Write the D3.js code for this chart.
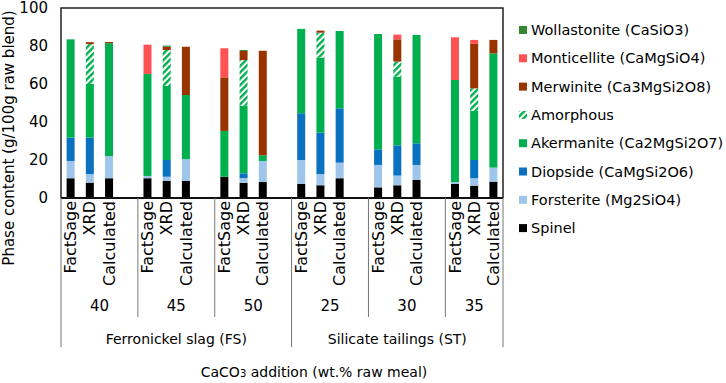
<!DOCTYPE html>
<html>
<head>
<meta charset="utf-8">
<script src="https://cdn.jsdelivr.net/npm/d3@7"></script>
<style>
  body { margin: 0; background: #fff; }
  text { font-family: "DejaVu Sans", sans-serif; fill: #000; }
</style>
</head>
<body>
<svg id="chart" width="726" height="383"></svg>
<script>
// categories
const materials = ["Ferronickel slag (FS)", "Silicate tailings (ST)"];
const additions = ["40", "45", "50", "25", "30", "35"];
const methods = ["FactSage", "XRD", "Calculated"];

// phases, bottom of the stack first
const phases = ["Spinel", "Forsterite (Mg2SiO4)", "Diopside (CaMgSi2O6)", "Akermanite (Ca2MgSi2O7)",
  "Amorphous", "Merwinite (Ca3MgSi2O8)", "Monticellite (CaMgSiO4)", "Wollastonite (CaSiO3)"];
const phaseColors = ["#000000", "#9dc6ea", "#0a70c0", "#00b04f", "url(#hatch)", "#993300", "#ff5252", "#34872f"];

// values per bar, order: 40 F/X/C, 45 F/X/C, 50 F/X/C, 25 F/X/C, 30 F/X/C, 35 F/X/C
const spinel       = [10.4, 8.1, 10.4, 10.4, 9.1, 9.1, 11.2, 8.0, 8.4, 7.5, 6.7, 10.4, 5.6, 6.7, 9.5, 7.5, 6.5, 8.6];
const forsterite   = [9.1, 4.5, 11.7, 1.2, 2.1, 11.4, 0, 2.5, 11.1, 12.5, 5.9, 8.2, 11.8, 5.1, 7.9, 0.9, 3.9, 7.4];
const diopside     = [12.3, 19.2, 0, 0, 8.8, 0, 0, 2.5, 0, 24.6, 21.8, 28.6, 8.2, 15.9, 11.4, 0, 9.6, 0];
const akermanite   = [51.7, 28.2, 59.4, 53.7, 39.0, 33.7, 24.1, 35.6, 3.0, 44.4, 39.5, 40.7, 60.7, 36.2, 57.0, 53.7, 25.8, 60.1];
const amorphous    = [0, 21.0, 0, 0, 18.9, 0, 0, 24.0, 0, 0, 13.1, 0, 0, 7.9, 0, 0, 11.9, 0];
const merwinite    = [0, 1.0, 0.6, 0, 1.7, 25.4, 28.2, 4.8, 55.0, 0, 1.1, 0, 0, 11.7, 0, 0, 23.4, 7.1];
const monticellite = [0, 0, 0, 15.4, 0, 0, 15.3, 0, 0, 0, 0, 0, 0, 2.5, 0, 22.5, 2.1, 0];
const wollastonite = [0, 0, 0, 0, 0.6, 0, 0, 0.5, 0, 0, 0, 0, 0, 0, 0, 0, 0, 0];
const series = [spinel, forsterite, diopside, akermanite, amorphous, merwinite, monticellite, wollastonite];

const yTicks = [0, 20, 40, 60, 80, 100];

// build slots: 3 bars per addition, plus an empty slot between additions
let slots = [];
let rows = [];
additions.forEach((a, i) => {
  methods.forEach((m, j) => {
    let k = i * 3 + j;
    let row = { slot: a + "|" + m, addition: a, method: m };
    phases.forEach((p, pi) => { row[p] = series[pi][k]; });
    rows.push(row);
    slots.push(row.slot);
  });
  if (i < additions.length - 1) slots.push(a + "|gap");
});

const margin = { left: 61, top: 8, right: 223, bottom: 185 };
const width = 726 - margin.left - margin.right;
const height = 383 - margin.top - margin.bottom;

const svg = d3.select("#chart");

// hatch for amorphous
svg.append("defs").append("pattern")
  .attr("id", "hatch")
  .attr("patternUnits", "userSpaceOnUse")
  .attr("width", 4.5).attr("height", 4.5)
  .attr("patternTransform", "rotate(45)")
  .call(p => {
    p.append("rect").attr("width", 4.5).attr("height", 4.5).attr("fill", "#fff");
    p.append("rect").attr("width", 2.4).attr("height", 4.5).attr("fill", "#00b04f");
  });

const g = svg.append("g").attr("transform", `translate(${margin.left},${margin.top})`);

const x = d3.scaleBand().domain(slots).range([0, width]).padding(0);
const y = d3.scaleLinear().domain([0, 100]).range([height, 0]);
const barW = 8;

const stacked = d3.stack().keys(phases)(rows);

g.selectAll("g.layer")
  .data(stacked)
  .join("g")
  .attr("class", "layer")
  .attr("fill", (d, i) => phaseColors[i])
  .selectAll("rect")
  .data(d => d.filter(s => s[1] - s[0] > 0))
  .join("rect")
  .attr("x", d => x(d.data.slot) + x.bandwidth() / 2 - barW / 2)
  .attr("width", barW)
  .attr("y", d => y(d[1]))
  .attr("height", d => y(d[0]) - y(d[1]));

// y axis
const yAxis = g.append("g")
  .call(d3.axisLeft(y).tickValues(yTicks).tickSize(0).tickPadding(13));
yAxis.select(".domain").remove();
yAxis.selectAll("text").style("font-family", "DejaVu Sans").style("font-size", "15px");

// plot frame
g.append("path")
  .attr("d", `M0,${height}V0H${width}V${height}`)
  .attr("fill", "none").attr("stroke", "#222").attr("stroke-width", 1.5);
g.append("line")
  .attr("x1", 0).attr("x2", width).attr("y1", height).attr("y2", height)
  .attr("stroke", "#111").attr("stroke-width", 2);

// category labels
g.selectAll("text.method")
  .data(rows)
  .join("text")
  .attr("class", "method")
  .attr("transform", d => `translate(${x(d.slot) + x.bandwidth() / 2},${height + 3}) rotate(-90)`)
  .attr("text-anchor", "end")
  .attr("dy", "0.35em")
  .style("font-size", "16px")
  .text(d => d.method);

// separators between additions and materials
const groupEdge = i => i < additions.length ? x(additions[i] + "|FactSage") : width;
const edges = d3.range(additions.length + 1).map(i => ({ x: groupEdge(i), outer: i % 3 === 0 }));
g.selectAll("line.sep")
  .data(edges)
  .join("line")
  .attr("class", "sep")
  .attr("x1", d => d.x).attr("x2", d => d.x)
  .attr("y1", height).attr("y2", d => d.outer ? height + 149 : height + 119)
  .attr("stroke", "#777").attr("stroke-width", 1);

g.selectAll("text.addition")
  .data(additions)
  .join("text")
  .attr("class", "addition")
  .attr("x", (d, i) => (groupEdge(i) + groupEdge(i + 1)) / 2)
  .attr("y", height + 113)
  .attr("text-anchor", "middle")
  .style("font-size", "15px")
  .text(d => d);

g.selectAll("text.material")
  .data(materials)
  .join("text")
  .attr("class", "material")
  .attr("x", (d, i) => (groupEdge(i * 3) + groupEdge(i * 3 + 3)) / 2)
  .attr("y", height + 146)
  .attr("text-anchor", "middle")
  .style("font-size", "14px")
  .text(d => d);

// axis titles
svg.append("text")
  .attr("transform", "translate(9,138) rotate(-90)")
  .attr("text-anchor", "middle")
  .attr("dy", "0.35em")
  .style("font-size", "15px")
  .text("Phase content (g/100g raw blend)");

const xt = svg.append("text")
  .attr("x", 314).attr("y", 377)
  .attr("text-anchor", "middle")
  .style("font-size", "14px");
xt.append("tspan").text("CaCO");
xt.append("tspan").style("font-size", "10px").text("3");
xt.append("tspan").text(" addition (wt.% raw meal)");

// legend, top entry is the last phase
const legend = svg.append("g").attr("transform", "translate(519,30)");
const legendItems = legend.selectAll("g")
  .data(phases.map((p, i) => ({ name: p, color: phaseColors[i] })).reverse())
  .join("g")
  .attr("transform", (d, i) => `translate(0,${i * 28.3})`);
legendItems.append("rect")
  .attr("x", 0).attr("y", -4).attr("width", 8).attr("height", 8)
  .attr("fill", d => d.color);
legendItems.append("text")
  .attr("x", 12).attr("dy", "0.35em")
  .style("font-size", "14.5px")
  .text(d => d.name);
</script>
</body>
</html>
